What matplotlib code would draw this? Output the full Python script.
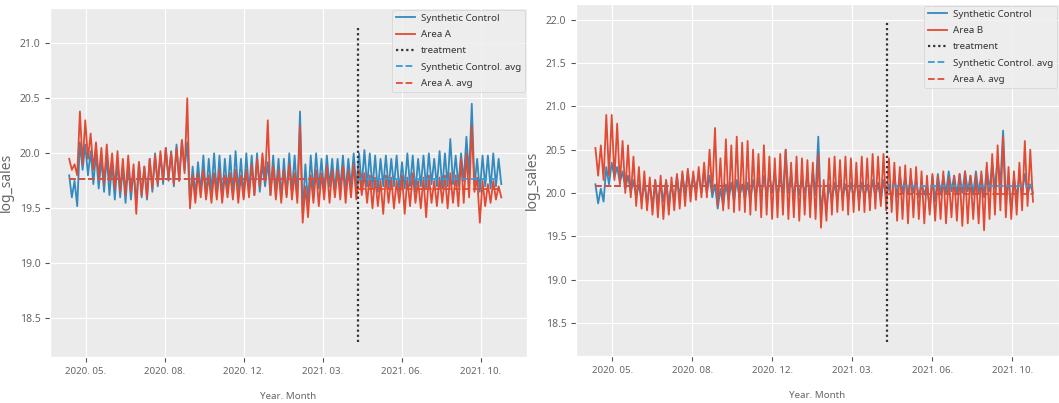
import matplotlib
matplotlib.use("Agg")
import matplotlib.pyplot as plt
import numpy as np

plt.style.use("ggplot")
plt.rcParams['font.family'] = ['Noto Sans', 'DejaVu Sans']

# ---- data (weekly peaks / troughs) ----
tick_days = [22, 125, 228, 331, 434, 537]
tick_labels = ["2020. 05.", "2020. 08.", "2020. 12.", "2021. 03.", "2021. 06.", "2021. 10."]
treatment_day = 376

a_sc_peak = [19.80, 19.75, 20.10, 20.08, 20.02, 20.00, 19.95, 19.98, 19.90, 19.92,
             19.88, 19.90, 19.85, 19.92, 19.88, 19.95, 20.00, 19.98, 20.05, 20.02,
             20.08, 20.12, 20.10, 19.88, 19.92, 19.98, 19.95, 20.00, 19.98, 19.95,
             19.98, 20.02, 19.95, 20.00, 19.98, 20.00, 19.90, 19.92, 19.98, 19.95,
             19.95, 20.00, 19.98, 20.38, 19.90, 19.98, 20.00, 19.95, 19.98, 19.95,
             19.95, 19.98, 19.95, 20.00, 20.00, 20.03, 20.00, 19.98, 19.95, 19.98,
             19.95, 19.98, 19.92, 20.00, 19.98, 19.95, 19.98, 20.00, 19.95, 20.02,
             20.00, 20.13, 19.98, 20.00, 20.15, 20.45, 19.95, 19.98, 19.98, 20.00, 19.95]
a_sc_low = [19.60, 19.52, 19.85, 19.80, 19.72, 19.68, 19.65, 19.62, 19.58, 19.60,
            19.55, 19.58, 19.55, 19.60, 19.58, 19.65, 19.70, 19.72, 19.75, 19.70,
            19.75, 19.85, 19.55, 19.62, 19.65, 19.60, 19.65, 19.62, 19.60, 19.65,
            19.62, 19.65, 19.60, 19.65, 19.62, 19.65, 19.70, 19.62, 19.65, 19.60,
            19.62, 19.65, 19.60, 19.45, 19.55, 19.65, 19.68, 19.65, 19.70, 19.65,
            19.68, 19.65, 19.70, 19.68, 19.70, 19.70, 19.68, 19.65, 19.70, 19.68,
            19.70, 19.65, 19.68, 19.70, 19.65, 19.70, 19.68, 19.72, 19.70, 19.68,
            19.70, 19.72, 19.70, 19.75, 19.80, 19.70, 19.65, 19.70, 19.68, 19.70, 19.72]
a_area_peak = [19.95, 19.90, 20.38, 20.30, 20.18, 20.10, 20.05, 20.08, 20.00, 20.02,
               19.95, 19.98, 19.90, 19.92, 19.88, 19.95, 19.98, 20.02, 20.05, 20.00,
               20.05, 20.12, 20.50, 19.80, 19.82, 19.85, 19.80, 19.82, 19.85, 19.80,
               19.82, 19.85, 19.80, 19.85, 19.90, 19.95, 20.00, 20.30, 19.88, 19.85,
               19.85, 19.90, 19.82, 20.25, 19.70, 19.80, 19.85, 19.82, 19.88, 19.85,
               19.85, 19.88, 19.85, 19.90, 19.85, 19.82, 19.80, 19.78, 19.75, 19.80,
               19.78, 19.75, 19.80, 19.78, 19.82, 19.75, 19.78, 19.80, 19.75, 19.78,
               19.80, 19.82, 19.80, 19.95, 20.00, 20.25, 19.78, 19.75, 19.72, 19.75, 19.70]
a_area_low = [19.85, 19.80, 19.90, 19.95, 19.85, 19.78, 19.72, 19.75, 19.68, 19.65,
              19.62, 19.65, 19.45, 19.62, 19.60, 19.68, 19.72, 19.75, 19.78, 19.72,
              19.75, 19.82, 19.50, 19.55, 19.60, 19.58, 19.55, 19.58, 19.55, 19.60,
              19.58, 19.55, 19.58, 19.60, 19.62, 19.70, 19.75, 19.62, 19.58, 19.55,
              19.60, 19.58, 19.55, 19.37, 19.42, 19.55, 19.52, 19.58, 19.55, 19.60,
              19.58, 19.55, 19.60, 19.58, 19.62, 19.55, 19.50, 19.52, 19.45, 19.55,
              19.50, 19.55, 19.45, 19.52, 19.55, 19.50, 19.42, 19.55, 19.52, 19.55,
              19.50, 19.55, 19.52, 19.55, 19.60, 19.65, 19.37, 19.52, 19.55, 19.58, 19.60]

b_sc_peak = [20.10, 20.05, 20.30, 20.35, 20.30, 20.25, 20.20, 20.15, 20.10, 20.12,
             20.10, 20.15, 20.12, 20.15, 20.10, 20.20, 20.22, 20.25, 20.20, 20.22,
             20.25, 20.20, 20.10, 20.05, 20.10, 20.12, 20.15, 20.10, 20.12, 20.15,
             20.18, 20.20, 20.22, 20.25, 20.20, 20.50, 20.22, 20.20, 20.15, 20.20,
             20.25, 20.65, 20.05, 20.10, 20.12, 20.15, 20.10, 20.12, 20.15, 20.12,
             20.10, 20.15, 20.12, 20.15, 20.10, 20.20, 20.22, 20.18, 20.20, 20.15,
             20.12, 20.10, 20.20, 20.22, 20.20, 20.25, 20.20, 20.22, 20.25, 20.20,
             20.25, 20.22, 20.30, 20.35, 20.40, 20.72, 20.15, 20.18, 20.20, 20.22, 20.10]
b_sc_low = [19.88, 19.90, 20.10, 20.18, 20.12, 20.05, 20.00, 19.95, 19.90, 19.88,
            19.85, 19.88, 19.90, 19.88, 19.92, 19.95, 20.00, 20.02, 20.05, 20.00,
            20.00, 19.95, 19.82, 19.85, 19.92, 19.90, 19.95, 19.92, 19.90, 19.95,
            19.95, 19.98, 20.00, 19.95, 19.98, 20.00, 19.95, 19.98, 20.00, 19.95,
            19.98, 19.78, 19.80, 19.90, 19.92, 19.95, 19.92, 19.95, 19.90, 19.95,
            19.92, 19.95, 19.90, 19.95, 19.92, 19.95, 20.00, 19.98, 20.00, 19.95,
            19.98, 19.80, 19.90, 19.98, 20.00, 20.02, 19.98, 20.00, 20.02, 19.98,
            20.00, 19.95, 20.02, 20.05, 20.10, 19.95, 19.80, 19.95, 20.00, 19.98, 20.00]
b_area_peak = [20.52, 20.55, 20.90, 20.90, 20.80, 20.60, 20.55, 20.42, 20.30, 20.25,
               20.18, 20.15, 20.20, 20.15, 20.18, 20.22, 20.25, 20.28, 20.25, 20.30,
               20.35, 20.50, 20.75, 20.40, 20.62, 20.55, 20.65, 20.58, 20.60, 20.50,
               20.45, 20.55, 20.42, 20.40, 20.45, 20.50, 20.35, 20.42, 20.40, 20.38,
               20.35, 20.45, 20.15, 20.40, 20.42, 20.38, 20.42, 20.40, 20.35, 20.42,
               20.40, 20.45, 20.42, 20.45, 20.40, 20.35, 20.30, 20.32, 20.28, 20.30,
               20.25, 20.20, 20.22, 20.20, 20.25, 20.18, 20.20, 20.22, 20.25, 20.20,
               20.22, 20.25, 20.35, 20.45, 20.55, 20.65, 20.30, 20.25, 20.35, 20.60, 20.50]
b_area_low = [20.20, 20.15, 20.20, 20.15, 20.10, 20.00, 19.95, 19.85, 19.82, 19.80,
              19.75, 19.72, 19.70, 19.75, 19.80, 19.82, 19.85, 19.90, 19.92, 19.95,
              19.95, 20.00, 19.85, 19.80, 19.82, 19.78, 19.80, 19.78, 19.75, 19.80,
              19.72, 19.75, 19.70, 19.72, 19.75, 19.70, 19.72, 19.68, 19.75, 19.72,
              19.70, 19.60, 19.68, 19.75, 19.78, 19.80, 19.75, 19.78, 19.80, 19.78,
              19.80, 19.82, 19.85, 19.80, 19.78, 19.68, 19.70, 19.65, 19.72, 19.70,
              19.65, 19.75, 19.68, 19.70, 19.65, 19.72, 19.68, 19.62, 19.65, 19.70,
              19.65, 19.57, 19.70, 19.75, 19.80, 19.72, 19.70, 19.75, 19.80, 19.85, 19.90]

# averages
a_sc_avg = 19.77
a_area_avg_pre, a_area_avg_post = 19.77, 19.68
b_sc_avg = 20.08
b_area_avg_pre, b_area_avg_post = 20.08, 19.99

BLUE = "#348ABD"
RED = "#E24A33"
AVG_BLUE = "#3A9AD9"
BG = "#EBEBEB"


def interleave(peaks, lows):
    n = len(peaks)
    days = np.empty(2 * n)
    vals = np.empty(2 * n)
    days[0::2] = np.arange(n) * 7
    days[1::2] = np.arange(n) * 7 + 3.5
    vals[0::2] = peaks
    vals[1::2] = lows
    return days, vals


fig = plt.figure(figsize=(10.59, 4.03), dpi=100)
ax1 = fig.add_axes([50 / 1059, 46 / 403, 477 / 1059, 349 / 403])
ax2 = fig.add_axes([576 / 1059, 47 / 403, 483 / 1059, 352 / 403])


def draw(ax, scp, scl, arp, arl, area_name, sc_avg, ar_pre, ar_post, ylim, yticks, vrange):
    ax.set_facecolor(BG)
    d, sc = interleave(scp, scl)
    _, ar = interleave(arp, arl)
    ax.plot(d, sc, color=BLUE, lw=1.3, label="Synthetic Control")
    ax.plot(d, ar, color=RED, lw=1.3, label=area_name)
    ax.vlines(treatment_day, vrange[0], vrange[1], colors="#333333", linestyles=(0, (1, 1.3)),
              lw=1.6, label="treatment")
    ax.hlines(sc_avg, d[0], d[-1], colors=AVG_BLUE, linestyles="--", lw=1.3,
              label="Synthetic Control. avg")
    ax.hlines(ar_pre, d[0], treatment_day, colors=RED, linestyles="--", lw=1.3,
              label="Area A. avg")
    ax.hlines(ar_post, treatment_day, d[-1], colors=RED, linestyles="--", lw=1.3)
    ax.set_xlim(-25, 597)
    ax.set_ylim(*ylim)
    ax.set_yticks(yticks)
    ax.set_yticklabels([f"{v:.1f}" for v in yticks], fontsize=7.5, color="#666666")
    ax.set_xticks(tick_days)
    ax.set_xticklabels(tick_labels, fontsize=7, color="#666666")
    ax.set_ylabel("log_sales", fontsize=10, color="#666666")
    ax.set_xlabel("Year. Month", fontsize=7, color="#666666", labelpad=12)
    leg = ax.legend(loc="upper right", fontsize=7, borderaxespad=0.2,
                    handlelength=2.0, handletextpad=0.6, labelspacing=0.75)
    leg.get_frame().set_facecolor("#EEEEEE")
    for t in leg.get_texts():
        t.set_color("#333333")


draw(ax1, a_sc_peak, a_sc_low, a_area_peak, a_area_low, "Area A",
     a_sc_avg, a_area_avg_pre, a_area_avg_post,
     (18.15, 21.32), [18.5, 19.0, 19.5, 20.0, 20.5, 21.0], (18.29, 21.16))
draw(ax2, b_sc_peak, b_sc_low, b_area_peak, b_area_low, "Area B",
     b_sc_avg, b_area_avg_pre, b_area_avg_post,
     (18.12, 22.18), [18.5, 19.0, 19.5, 20.0, 20.5, 21.0, 21.5, 22.0], (18.28, 21.98))

fig.savefig("out.png", dpi=100)
